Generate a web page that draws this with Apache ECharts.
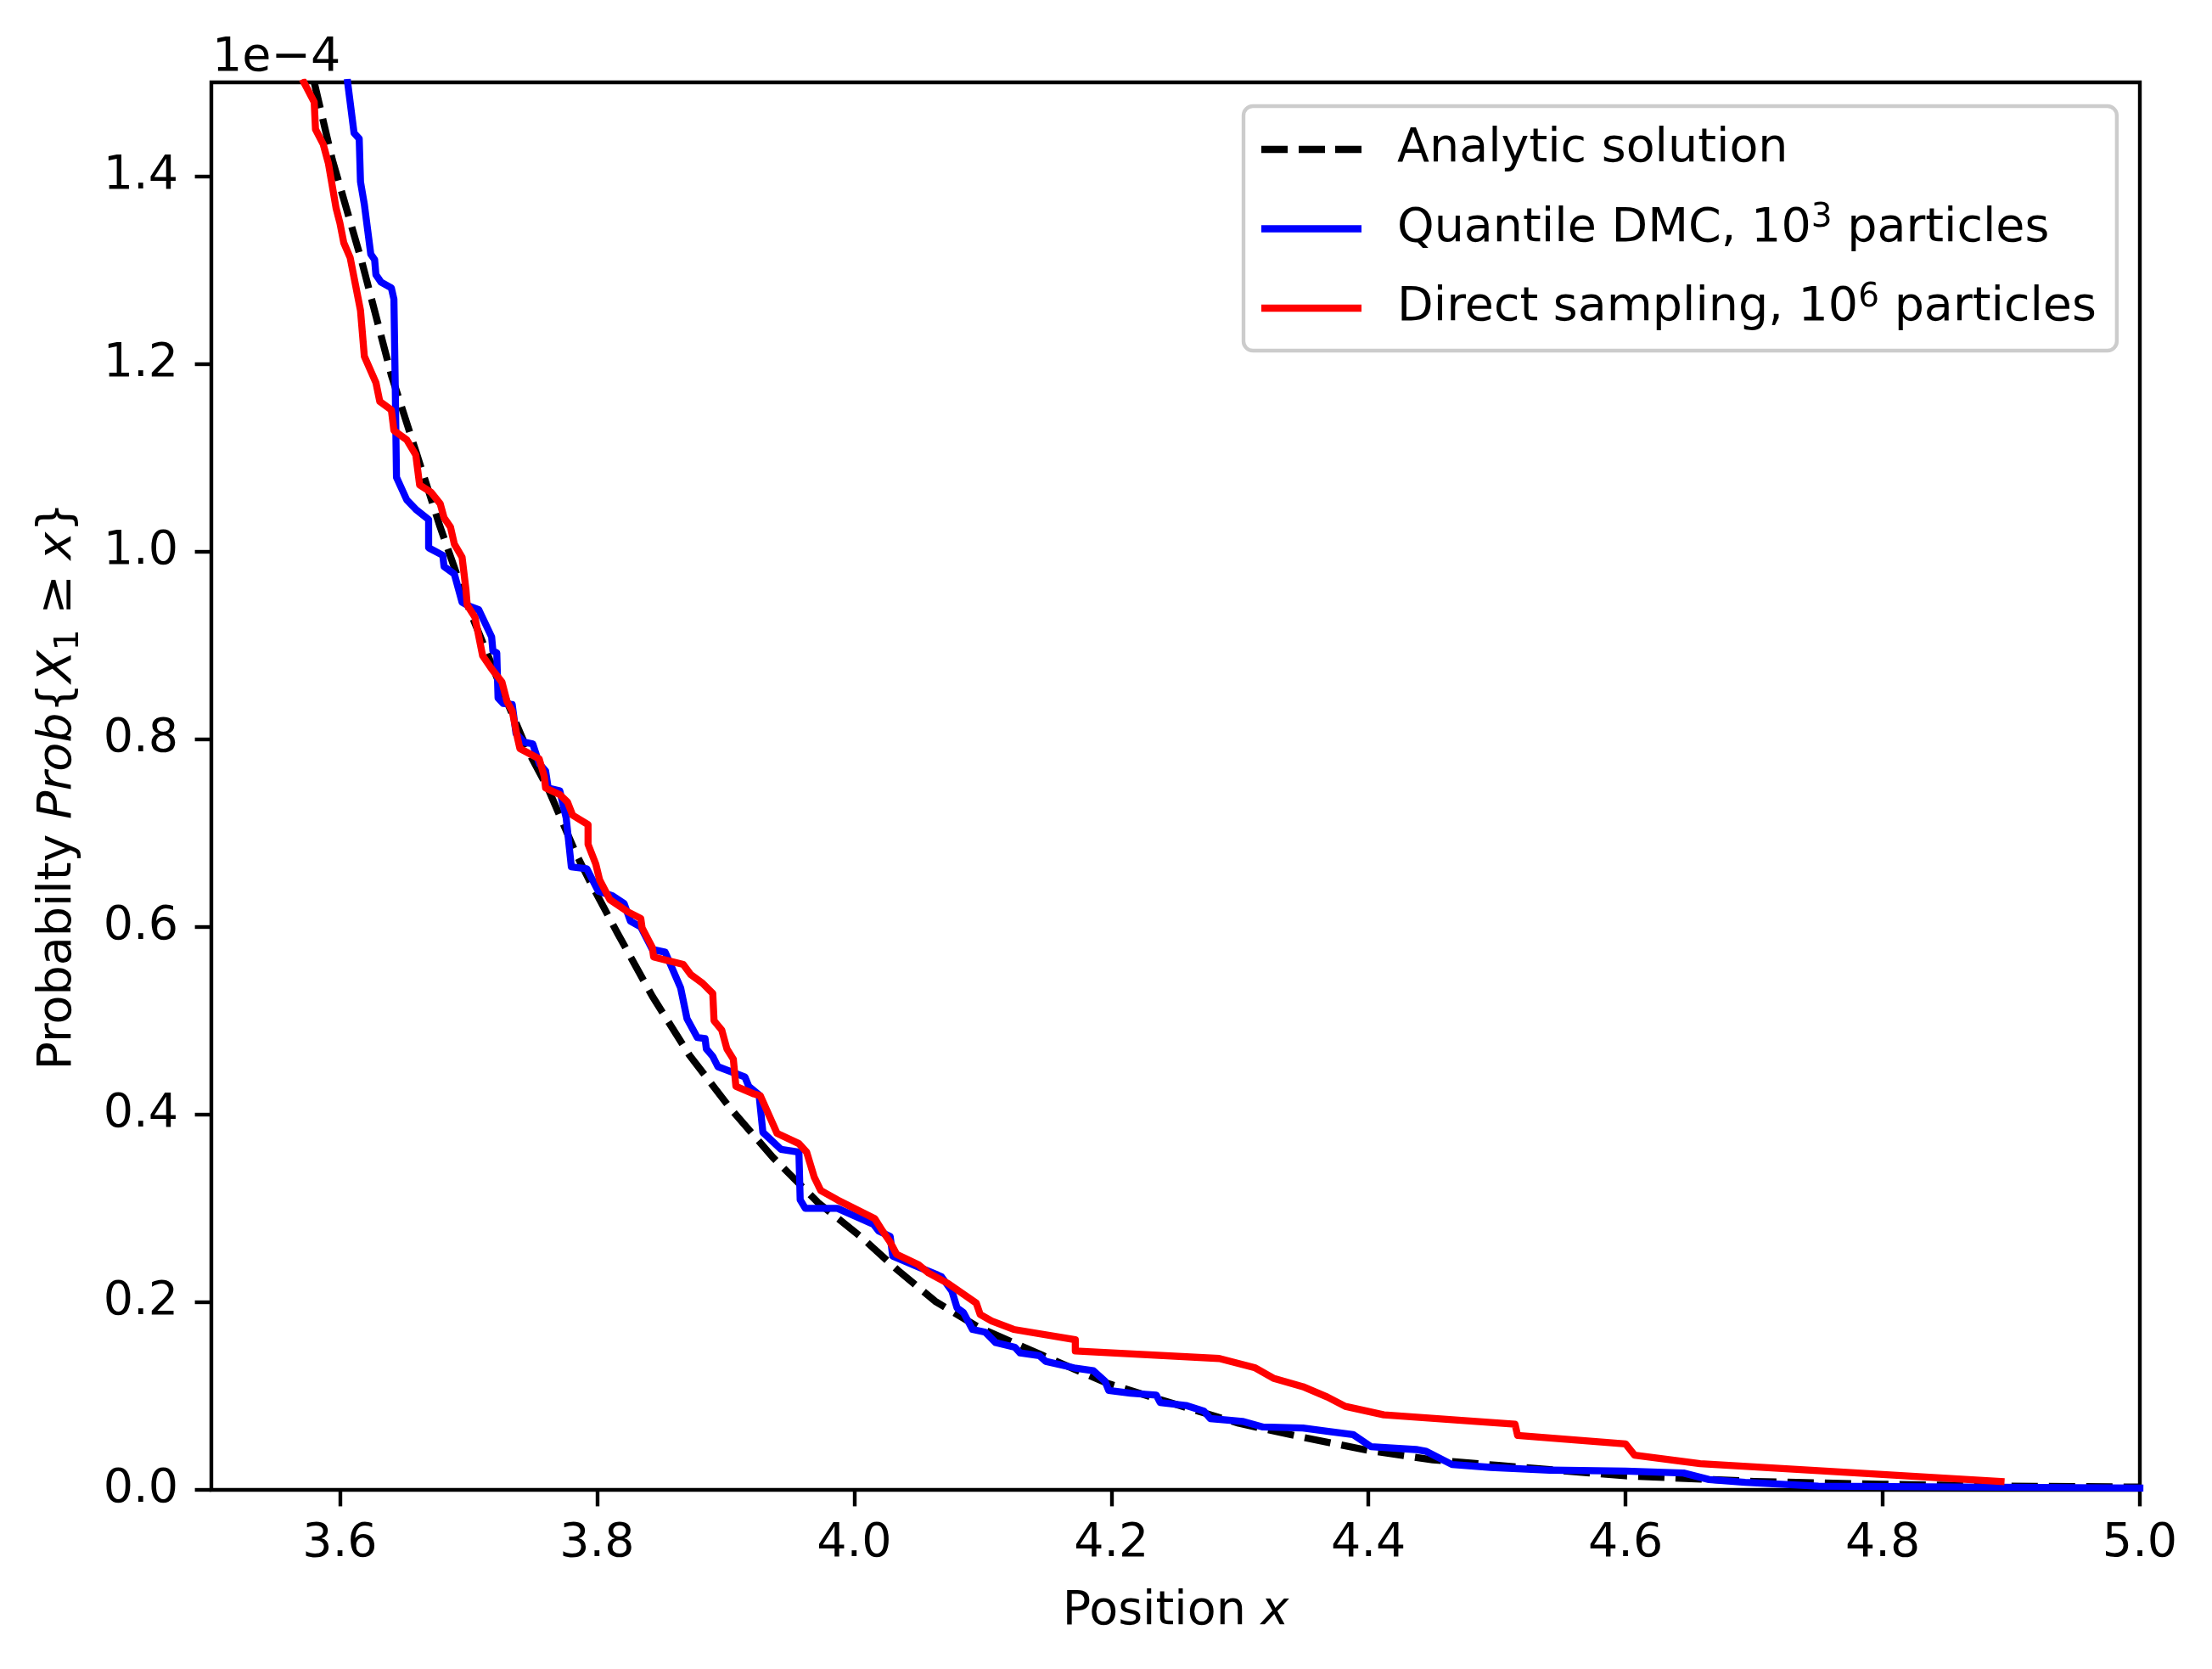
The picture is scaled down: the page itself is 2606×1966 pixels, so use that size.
<!DOCTYPE html>
<html>
<head>
<meta charset="utf-8">
<script src="https://cdn.jsdelivr.net/npm/echarts@6/dist/echarts.min.js"></script>
<style>
  html, body { margin: 0; padding: 0; background: #fff; }
  #chart { width: 2606px; height: 1966px; }
</style>
</head>
<body>
<div id="chart"></div>
<script>
// ---- data (y values in units of 1e-4) ----
const xTicks = [3.6, 3.8, 4.0, 4.2, 4.4, 4.6, 4.8, 5.0];
const yTicks = [0.0, 0.2, 0.4, 0.6, 0.8, 1.0, 1.2, 1.4];
const seriesNames = ['Analytic solution', 'Quantile DMC, 10^3 particles', 'Direct sampling, 10^6 particles'];

const analytic = [
  [3.580, 1.500], [3.594, 1.418], [3.617, 1.309], [3.640, 1.188], [3.659, 1.107],
  [3.678, 1.026], [3.699, 0.944], [3.722, 0.866], [3.745, 0.791], [3.762, 0.747],
  [3.784, 0.677], [3.795, 0.647], [3.816, 0.593], [3.843, 0.526], [3.872, 0.463],
  [3.904, 0.406], [3.937, 0.354], [3.972, 0.306], [4.005, 0.270], [4.034, 0.234],
  [4.063, 0.201], [4.097, 0.173], [4.147, 0.143], [4.198, 0.113], [4.248, 0.092],
  [4.299, 0.071], [4.349, 0.056], [4.400, 0.042], [4.450, 0.032], [4.501, 0.026],
  [4.600, 0.015], [4.700, 0.009], [4.800, 0.006], [4.900, 0.004], [5.000, 0.003]
];

const quantileDMC = [
  [3.606, 1.500], [3.611, 1.446], [3.615, 1.440], [3.616, 1.394], [3.619, 1.370],
  [3.624, 1.317], [3.627, 1.311], [3.628, 1.295], [3.632, 1.287], [3.640, 1.281],
  [3.642, 1.269], [3.643, 1.180], [3.644, 1.079], [3.652, 1.055], [3.659, 1.045],
  [3.669, 1.034], [3.669, 1.004], [3.680, 0.996], [3.681, 0.984], [3.689, 0.976],
  [3.695, 0.946], [3.700, 0.942], [3.708, 0.938], [3.718, 0.909], [3.719, 0.894],
  [3.722, 0.892], [3.723, 0.844], [3.727, 0.838], [3.734, 0.837], [3.737, 0.806],
  [3.743, 0.797], [3.750, 0.795], [3.755, 0.774], [3.760, 0.766], [3.762, 0.748],
  [3.771, 0.745], [3.776, 0.716], [3.780, 0.664], [3.792, 0.662], [3.801, 0.638],
  [3.812, 0.633], [3.821, 0.625], [3.826, 0.606], [3.834, 0.600], [3.843, 0.576],
  [3.853, 0.573], [3.865, 0.535], [3.870, 0.502], [3.878, 0.482], [3.884, 0.481],
  [3.885, 0.470], [3.890, 0.462], [3.894, 0.451], [3.915, 0.440], [3.918, 0.430],
  [3.926, 0.421], [3.929, 0.381], [3.943, 0.363], [3.957, 0.360], [3.958, 0.309],
  [3.962, 0.300], [3.987, 0.300], [4.005, 0.289], [4.015, 0.283], [4.019, 0.276],
  [4.028, 0.270], [4.030, 0.249], [4.051, 0.237], [4.065, 0.229], [4.068, 0.227],
  [4.076, 0.212], [4.080, 0.194], [4.085, 0.189], [4.092, 0.171], [4.102, 0.168],
  [4.110, 0.157], [4.125, 0.152], [4.129, 0.146], [4.144, 0.143], [4.149, 0.137],
  [4.171, 0.130], [4.186, 0.127], [4.195, 0.116], [4.198, 0.106], [4.215, 0.103],
  [4.235, 0.101], [4.238, 0.093], [4.258, 0.090], [4.272, 0.084], [4.277, 0.076],
  [4.302, 0.073], [4.318, 0.067], [4.349, 0.066], [4.370, 0.062], [4.388, 0.059],
  [4.402, 0.046], [4.437, 0.043], [4.445, 0.041], [4.465, 0.027], [4.495, 0.024],
  [4.541, 0.021], [4.600, 0.020], [4.645, 0.018], [4.665, 0.011], [4.693, 0.008],
  [4.750, 0.004], [5.000, 0.002]
];

const directSampling = [
  [3.572, 1.500], [3.580, 1.479], [3.581, 1.450], [3.587, 1.434], [3.591, 1.414],
  [3.594, 1.390], [3.597, 1.366], [3.600, 1.350], [3.603, 1.329], [3.608, 1.313],
  [3.612, 1.285], [3.616, 1.257], [3.619, 1.208], [3.628, 1.180], [3.631, 1.160],
  [3.640, 1.151], [3.642, 1.129], [3.652, 1.119], [3.659, 1.103], [3.662, 1.071],
  [3.671, 1.063], [3.678, 1.051], [3.681, 1.036], [3.686, 1.026], [3.689, 1.008],
  [3.695, 0.994], [3.698, 0.960], [3.699, 0.943], [3.705, 0.930], [3.711, 0.889],
  [3.718, 0.875], [3.726, 0.861], [3.730, 0.840], [3.734, 0.830], [3.738, 0.802],
  [3.740, 0.790], [3.755, 0.779], [3.759, 0.760], [3.760, 0.748], [3.771, 0.741],
  [3.777, 0.733], [3.781, 0.719], [3.793, 0.709], [3.793, 0.688], [3.799, 0.667],
  [3.802, 0.650], [3.810, 0.629], [3.824, 0.616], [3.834, 0.609], [3.835, 0.599],
  [3.843, 0.578], [3.844, 0.568], [3.855, 0.564], [3.867, 0.560], [3.873, 0.549],
  [3.882, 0.540], [3.890, 0.529], [3.891, 0.500], [3.897, 0.490], [3.901, 0.470],
  [3.906, 0.459], [3.908, 0.430], [3.922, 0.422], [3.927, 0.420], [3.940, 0.380],
  [3.957, 0.369], [3.963, 0.360], [3.969, 0.333], [3.974, 0.319], [3.987, 0.309],
  [4.016, 0.289], [4.022, 0.276], [4.028, 0.264], [4.033, 0.251], [4.050, 0.240],
  [4.058, 0.231], [4.073, 0.220], [4.095, 0.199], [4.098, 0.187], [4.107, 0.180],
  [4.124, 0.171], [4.172, 0.160], [4.172, 0.148], [4.284, 0.140], [4.312, 0.130],
  [4.326, 0.119], [4.349, 0.110], [4.368, 0.099], [4.382, 0.089], [4.412, 0.080],
  [4.514, 0.070], [4.516, 0.058], [4.600, 0.049], [4.607, 0.037], [4.658, 0.028],
  [4.892, 0.009]
];

// ---- chart ----
const FONT = 'DejaVu Sans';
const FS = 55.5;
const LW = 8.33;

const chart = echarts.init(document.getElementById('chart'), null, { renderer: 'canvas' });

const solidIcon = 'path://M0,0h118v8.3h-118z';
const dashedIcon = 'path://M0,0h31v8.3h-31z M44,0h31v8.3h-31z M87,0h31v8.3h-31z';

const option = {
  animation: false,
  backgroundColor: '#ffffff',
  textStyle: { fontFamily: FONT },
  grid: {
    left: 249, right: 85, top: 97, bottom: 211,
    show: true, borderColor: '#000000', borderWidth: 4.4, backgroundColor: 'transparent'
  },
  xAxis: {
    type: 'value', min: 3.5, max: 5.0,
    axisLine: { show: false },
    splitLine: { show: false },
    axisTick: { show: true, length: 19.4, customValues: xTicks, lineStyle: { color: '#000', width: 4.4 } },
    axisLabel: {
      customValues: xTicks, margin: 36,
      fontFamily: FONT, fontSize: FS, color: '#000',
      formatter: v => v.toFixed(1)
    },
    name: '{n|Position }{i|x}',
    nameLocation: 'middle',
    nameGap: 116,
    nameTextStyle: {
      fontFamily: FONT, fontSize: FS, color: '#000',
      rich: {
        n: { fontFamily: FONT, fontSize: FS, color: '#000' },
        i: { fontFamily: FONT, fontSize: FS, fontStyle: 'italic', color: '#000' }
      }
    }
  },
  yAxis: {
    type: 'value', min: 0, max: 1.5,
    axisLine: { show: false },
    splitLine: { show: false },
    axisTick: { show: true, length: 19.4, customValues: yTicks, lineStyle: { color: '#000', width: 4.4 } },
    axisLabel: {
      customValues: yTicks, margin: 39,
      fontFamily: FONT, fontSize: FS, color: '#000',
      formatter: v => v.toFixed(1)
    },
    name: 'Probabilty {i|Prob}{{i|X}{s|1} \u2265 {i|x}}',
    nameLocation: 'middle',
    nameGap: 148,
    nameRotate: 90,
    nameTextStyle: {
      fontFamily: FONT, fontSize: FS, color: '#000', lineHeight: 64,
      rich: {
        i: { fontFamily: FONT, fontSize: FS, fontStyle: 'italic', color: '#000', lineHeight: 64 },
        s: { fontFamily: FONT, fontSize: 39, color: '#000', lineHeight: 30, verticalAlign: 'bottom' }
      }
    }
  },
  legend: {
    orient: 'vertical',
    left: 1465, top: 125,
    padding: [19, 24, 18, 21],
    itemWidth: 118, itemHeight: 8.3,
    itemGap: 29.5,
    backgroundColor: 'rgba(255,255,255,0.8)',
    borderColor: '#cccccc', borderWidth: 4.4, borderRadius: 11,
    selectedMode: false,
    data: [
      { name: seriesNames[0], icon: dashedIcon, itemStyle: { color: '#000000' } },
      { name: seriesNames[1], icon: solidIcon, itemStyle: { color: '#0000ff' } },
      { name: seriesNames[2], icon: solidIcon, itemStyle: { color: '#ff0000' } }
    ],
    formatter: name => name.replace(/\^(\d)/, '{sup|$1}'),
    textStyle: {
      fontFamily: FONT, fontSize: FS, color: '#000', lineHeight: 64,
      padding: [0, 0, 0, 37],
      rich: {
        sup: { fontFamily: FONT, fontSize: 39, color: '#000', lineHeight: 26, verticalAlign: 'top' }
      }
    }
  },
  graphic: [
    {
      type: 'text', left: 250, top: 41,
      style: { text: '1e\u22124', font: FS + 'px "DejaVu Sans"', fill: '#000' }
    }
  ],
  series: [
    {
      name: seriesNames[0], type: 'line', data: analytic,
      showSymbol: false, symbol: 'none', clip: true,
      lineStyle: { color: '#000000', width: LW, type: [31, 13], cap: 'butt', join: 'round' },
      itemStyle: { color: '#000000' }, z: 2
    },
    {
      name: seriesNames[1], type: 'line', data: quantileDMC,
      showSymbol: false, symbol: 'none', clip: true,
      lineStyle: { color: '#0000ff', width: LW, cap: 'square', join: 'round' },
      itemStyle: { color: '#0000ff' }, z: 3
    },
    {
      name: seriesNames[2], type: 'line', data: directSampling,
      showSymbol: false, symbol: 'none', clip: true,
      lineStyle: { color: '#ff0000', width: LW, cap: 'square', join: 'round' },
      itemStyle: { color: '#ff0000' }, z: 4
    }
  ]
};
chart.setOption(option);
</script>
</body>
</html>
